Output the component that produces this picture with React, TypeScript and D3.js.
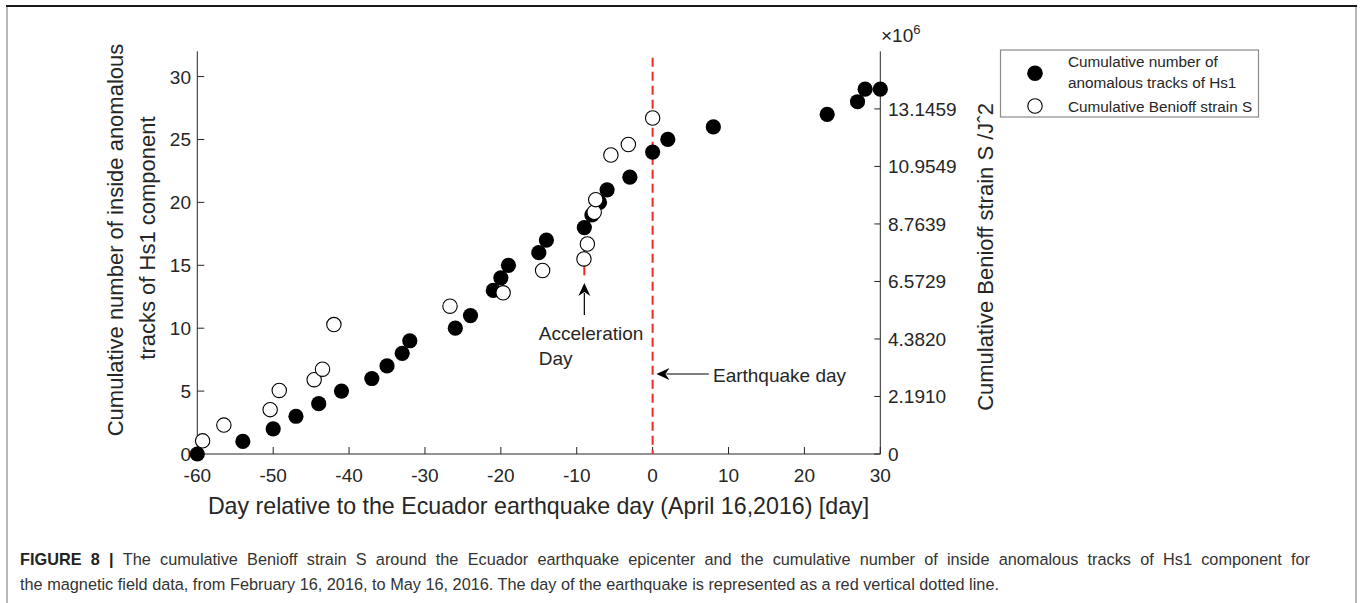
import React, { useLayoutEffect, useRef, useState } from "react";
import * as d3 from "d3";

// Cumulative count of anomalous Hs1 tracks (left axis)
const hs1Days = [-60, -54, -50, -47, -44, -41, -37, -35, -33, -32, -26, -24, -21, -20, -19, -15, -14, -9, -8, -7, -6, -3, 0, 2, 8, 23, 27, 28, 30];
const hs1Count = [0, 1, 2, 3, 4, 5, 6, 7, 8, 9, 10, 11, 13, 14, 15, 16, 17, 18, 19, 20, 21, 22, 24, 25, 26, 27, 28, 29, 29];

// Cumulative Benioff strain S, in units of 1e6 (right axis)
const benioffDays = [-59.3, -56.5, -50.4, -49.2, -44.6, -43.5, -42.0, -26.7, -19.7, -14.5, -9.05, -8.6, -7.7, -7.5, -5.5, -3.2, 0];
const benioffS = [0.5, 1.1, 1.69, 2.42, 2.83, 3.23, 4.93, 5.63, 6.14, 6.99, 7.43, 8.0, 9.21, 9.69, 11.39, 11.79, 12.8];

const xTicks = [-60, -50, -40, -30, -20, -10, 0, 10, 20, 30];
const leftTicks = [0, 5, 10, 15, 20, 25, 30];
const rightStep = 2.19098;
const rightTicks = [0, 1, 2, 3, 4, 5, 6].map((k) => k * rightStep);
const rightTickLabels = ["0", "2.1910", "4.3820", "6.5729", "8.7639", "10.9549", "13.1459"];

const earthquakeDay = 0;
const accelerationDay = -9;

const captionHead = "FIGURE 8 | ";
const captionLine1 =
  "The cumulative Benioff strain S around the Ecuador earthquake epicenter and the cumulative number of inside anomalous tracks of Hs1 component for";
const captionLine2 =
  "the magnetic field data, from February 16, 2016, to May 16, 2016. The day of the earthquake is represented as a red vertical dotted line.";

const FONT = "'Liberation Sans', Arial, Helvetica, sans-serif";
const AXIS = "#262626";
const RED = "#ee2b24";

const CAPTION_X = 20;
const CAPTION_RIGHT = 1310;

export default function App() {
  const x = d3.scaleLinear().domain([-60, 30]).range([197.3, 880.3]);
  const yL = d3.scaleLinear().domain([0, 32]).range([454, 51.4]);
  const yR = d3.scaleLinear().domain([0, 7 * rightStep]).range([454, 51.4]);

  // justify the first caption line across the column
  const line1Ref = useRef<SVGTextElement>(null);
  const [wordSpacing, setWordSpacing] = useState(0);
  useLayoutEffect(() => {
    const el = line1Ref.current;
    if (!el) return;
    const natural = el.getComputedTextLength();
    const spaces = (captionHead + captionLine1).split(" ").length - 1;
    const extra = CAPTION_RIGHT - CAPTION_X - natural;
    if (spaces > 0 && extra > 0) setWordSpacing(extra / spaces);
  }, []);

  const arrowHead = (tipX: number, tipY: number, dir: "up" | "left") => {
    const L = 13, W = 6, back = 4;
    if (dir === "up") {
      return `M${tipX},${tipY} L${tipX - W},${tipY + L} L${tipX},${tipY + L - back} L${tipX + W},${tipY + L} Z`;
    }
    return `M${tipX},${tipY} L${tipX + L},${tipY - W} L${tipX + L - back},${tipY} L${tipX + L},${tipY + W} Z`;
  };

  const accX = x(accelerationDay);
  const eqArrowY = yL(6.36);

  return (
    <svg width={1360} height={603} style={{ position: "absolute", left: 0, top: 0, background: "#fff" }} fontFamily={FONT}>
      {/* page frame */}
      <line x1={7} x2={7} y1={6} y2={603} stroke="#8a8a8a" strokeWidth={1.2} />
      <line x1={1356} x2={1356} y1={6} y2={603} stroke="#8a8a8a" strokeWidth={1.2} />
      <line x1={6} x2={1357} y1={6} y2={6} stroke="#1a1a1a" strokeWidth={2} />

      {/* axes lines */}
      <line x1={x(-60)} x2={x(-60)} y1={yL(32)} y2={yL(0)} stroke={AXIS} strokeWidth={1} />
      <line x1={x(30)} x2={x(30)} y1={yL(32)} y2={yL(0)} stroke={AXIS} strokeWidth={1} />
      <line x1={x(-60)} x2={x(30)} y1={yL(0)} y2={yL(0)} stroke={AXIS} strokeWidth={1} />

      {/* x ticks */}
      {xTicks.map((t) => (
        <g key={"xt" + t}>
          <line x1={x(t)} x2={x(t)} y1={yL(0)} y2={yL(0) - 7} stroke={AXIS} />
          <text x={x(t)} y={482} fontSize={19} textAnchor="middle" fill={AXIS}>{t}</text>
        </g>
      ))}

      {/* left ticks */}
      {leftTicks.map((t) => (
        <g key={"lt" + t}>
          <line x1={x(-60)} x2={x(-60) + 7} y1={yL(t)} y2={yL(t)} stroke={AXIS} />
          <text x={191} y={yL(t) + 7} fontSize={19} textAnchor="end" fill={AXIS}>{t}</text>
        </g>
      ))}

      {/* right ticks */}
      {rightTicks.map((t, i) => (
        <g key={"rt" + i}>
          <line x1={x(30)} x2={x(30) - 6} y1={yR(t)} y2={yR(t)} stroke={AXIS} />
          <text x={888} y={yR(t) + 7} fontSize={19} textAnchor="start" fill={AXIS}>{rightTickLabels[i]}</text>
        </g>
      ))}

      {/* exponent */}
      <text x={881} y={42} fontSize={19} fill={AXIS}>
        ×10<tspan dy={-8} fontSize={13}>6</tspan>
      </text>

      {/* axis titles */}
      <text x={538.5} y={514} fontSize={23.2} textAnchor="middle" fill={AXIS}>
        Day relative to the Ecuador earthquake day (April 16,2016) [day]
      </text>
      <text transform={`translate(123,240) rotate(-90)`} fontSize={22} textAnchor="middle" fill={AXIS}>
        Cumulative number of inside anomalous
      </text>
      <text transform={`translate(155,238) rotate(-90)`} fontSize={22} textAnchor="middle" fill={AXIS}>
        tracks of Hs1 component
      </text>
      <text transform={`translate(993,257) rotate(-90)`} fontSize={22} textAnchor="middle" fill={AXIS}>
        Cumulative Benioff strain S /Jˆ2
      </text>

      {/* earthquake day line */}
      <line x1={x(earthquakeDay)} x2={x(earthquakeDay)} y1={yL(31.5)} y2={yL(0)} stroke={RED} strokeWidth={2} strokeDasharray="9,5" />

      {/* acceleration day marker */}
      <line x1={accX} x2={accX} y1={yL(16.4)} y2={yL(14.2)} stroke={RED} strokeWidth={2} />

      {/* filled markers: Hs1 count */}
      {hs1Days.map((d, i) => (
        <circle key={"f" + i} cx={x(d)} cy={yL(hs1Count[i])} r={7.6} fill="#000" />
      ))}

      {/* open markers: Benioff strain */}
      {benioffDays.map((d, i) => (
        <circle key={"o" + i} cx={x(d)} cy={yR(benioffS[i])} r={7.2} fill="#fff" stroke="#000" strokeWidth={1.1} />
      ))}

      {/* acceleration arrow and label */}
      <line x1={accX} x2={accX} y1={yL(11.05)} y2={yL(13.6) + 10} stroke="#000" strokeWidth={1.2} />
      <path d={arrowHead(accX, yL(13.6), "up")} fill="#000" />
      <text x={x(-15)} y={yL(9.06)} fontSize={19} fill={AXIS}>Acceleration</text>
      <text x={x(-15)} y={yL(7.07)} fontSize={19} fill={AXIS}>Day</text>

      {/* earthquake arrow and label */}
      <line x1={x(0.5) + 10} x2={x(7.4)} y1={eqArrowY} y2={eqArrowY} stroke="#000" strokeWidth={1.2} />
      <path d={arrowHead(x(0.5), eqArrowY, "left")} fill="#000" />
      <text x={x(7.95)} y={yL(5.75)} fontSize={19} fill={AXIS}>Earthquake day</text>

      {/* legend */}
      <rect x={1000.5} y={50} width={258} height={67} fill="#fff" stroke="#8a8a8a" strokeWidth={1.2} />
      <circle cx={1035} cy={73.3} r={7.8} fill="#000" />
      <circle cx={1035} cy={106} r={7.2} fill="#fff" stroke="#000" strokeWidth={1.1} />
      <text x={1068} y={66.7} fontSize={15.3} fill={AXIS}>Cumulative number of</text>
      <text x={1068} y={88.3} fontSize={15.3} fill={AXIS}>anomalous tracks of Hs1</text>
      <text x={1068} y={111.7} fontSize={15.3} fill={AXIS}>Cumulative Benioff strain S</text>

      {/* caption */}
      <text ref={line1Ref} x={CAPTION_X} y={565} fontSize={16.3} fill="#333" wordSpacing={wordSpacing} xmlSpace="preserve">
        <tspan fontWeight="bold" fill="#222">{captionHead}</tspan>
        {captionLine1}
      </text>
      <text x={CAPTION_X} y={590} fontSize={16.3} fill="#333">
        {captionLine2}
      </text>
    </svg>
  );
}
